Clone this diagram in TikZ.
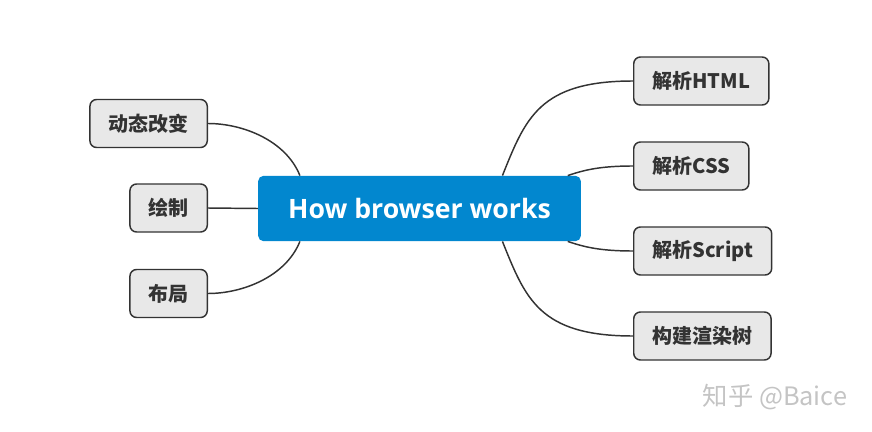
\documentclass[tikz,border=0pt]{standalone}
\usepackage{fontspec}
\setmainfont{Open Sans}
\newfontfamily\cjk{Noto Sans CJK SC}
\usetikzlibrary{positioning}
\definecolor{ink}{HTML}{333333}
\definecolor{leaf}{HTML}{E8E8E8}
\definecolor{brand}{HTML}{0287CF}
\definecolor{wmark}{HTML}{C4C4C4}
\tikzset{
  hub/.style={rounded corners=4pt, fill=brand, text=white, minimum width=242pt, minimum height=49pt, font=\fontsize{20}{24}\selectfont\bfseries},
  leafbox/.style={rounded corners=5pt, fill=leaf, draw=ink, line width=1.1pt, minimum height=36pt, inner xsep=14pt, text=ink, font=\cjk\fontsize{15}{18}\selectfont\bfseries},
  link/.style={draw=ink, line width=1.1pt},
}
\begin{document}
\begin{tikzpicture}[x=0.75pt, y=-0.75pt]
    \useasboundingbox (0,0) rectangle (872,432);
    \node[hub] (hub) at (419.5,208.5) {How browser works};
    % left side
    \node[leafbox, anchor=east] (dyn) at (208,123.5) {动态改变};
    \node[leafbox, anchor=east] (paint) at (208,208) {绘制};
    \node[leafbox, anchor=east] (layout) at (208,293.5) {布局};
    % right side
    \node[leafbox, anchor=west] (html) at (633,81) {解析HTML};
    \node[leafbox, anchor=west] (css) at (633,166) {解析CSS};
    \node[leafbox, anchor=west] (script) at (633,251) {解析Script};
    \node[leafbox, anchor=west] (tree) at (633,336) {构建渲染树};
    \draw[link] (dyn.east) .. controls +(35,0) and +(-14,-35) .. ([xshift=31.5pt]hub.north west);
    \draw[link] (paint.east) -- (hub.west);
    \draw[link] (layout.east) .. controls +(35,0) and +(-14,35) .. ([xshift=31.5pt]hub.south west);
    \draw[link] (html.west) .. controls +(-94,0) and +(23,-57) .. ([xshift=-59pt]hub.north east);
    \draw[link] (css.west) .. controls +(-35,0) and +(15,-5) .. ([xshift=-10pt]hub.north east);
    \draw[link] (script.west) .. controls +(-35,0) and +(15,5) .. ([xshift=-10pt]hub.south east);
    \draw[link] (tree.west) .. controls +(-94,0) and +(23,57) .. ([xshift=-59pt]hub.south east);
    \node[text=wmark, font=\cjk\fontsize{19}{22}\selectfont] (mark) at (775,397) {知乎 @Baice};
  \end{tikzpicture}
\end{document}
